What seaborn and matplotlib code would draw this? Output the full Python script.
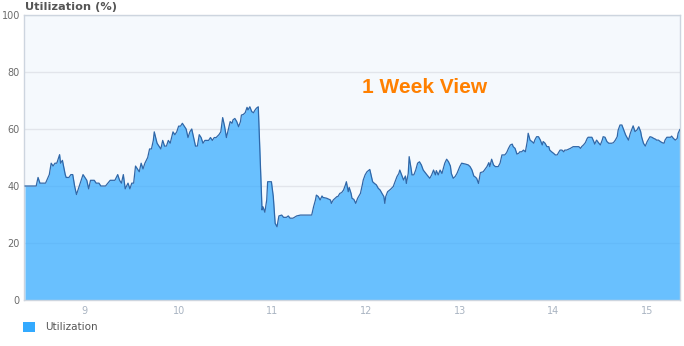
import matplotlib
matplotlib.use("Agg")
import matplotlib.pyplot as plt
from matplotlib.patches import Patch
import seaborn as sns
import pandas as pd

# ---- data (day of month, utilization %) ----
days = [
    8.36, 8.48, 8.50, 8.52, 8.58, 8.62, 8.64, 8.66, 8.68, 8.70, 8.73, 8.74, 8.76, 8.79, 8.80,
    8.83, 8.85, 8.87, 8.89, 8.91, 8.94, 8.95, 8.98, 9.00, 9.02, 9.04, 9.06, 9.10, 9.12, 9.15,
    9.17, 9.22, 9.27, 9.32, 9.35, 9.37, 9.39, 9.41, 9.43, 9.46, 9.48, 9.50, 9.52, 9.54, 9.56,
    9.58, 9.60, 9.62, 9.64, 9.67, 9.69, 9.71, 9.73, 9.74, 9.77, 9.79, 9.81, 9.83, 9.85, 9.87,
    9.89, 9.91, 9.94, 9.96, 9.98, 10.00, 10.02, 10.04, 10.06, 10.08, 10.10, 10.12, 10.14, 10.16,
    10.18, 10.20, 10.22, 10.24, 10.26, 10.28, 10.30, 10.32, 10.34, 10.36, 10.38, 10.40, 10.43,
    10.45, 10.47, 10.49, 10.51,
    10.55, 10.57, 10.58, 10.60, 10.62, 10.64, 10.66, 10.67, 10.69, 10.71, 10.73, 10.74, 10.76,
    10.78, 10.80, 10.81, 10.83, 10.85, 10.89, 10.90, 10.92, 10.94, 10.95, 10.99, 11.01, 11.03,
    11.05, 11.07, 11.10, 11.12, 11.15, 11.17, 11.19, 11.22, 11.26, 11.30, 11.42, 11.44, 11.46,
    11.47, 11.49, 11.51, 11.53, 11.54, 11.58, 11.62, 11.63, 11.65, 11.67, 11.69, 11.70, 11.72,
    11.74, 11.76, 11.78, 11.79, 11.80, 11.81, 11.82, 11.84, 11.85, 11.87, 11.89, 11.91, 11.93,
    11.94, 11.96, 11.97, 11.99, 12.01, 12.04, 12.05, 12.07, 12.09, 12.11, 12.13, 12.15, 12.17,
    12.19, 12.20, 12.21, 12.23, 12.26, 12.29, 12.31, 12.33, 12.35, 12.36, 12.38, 12.40, 12.42,
    12.43, 12.45, 12.46, 12.48, 12.49, 12.51, 12.53, 12.55, 12.57, 12.59, 12.61, 12.65, 12.68,
    12.70, 12.72, 12.74, 12.75, 12.77, 12.79, 12.81, 12.83, 12.84, 12.86, 12.88,
    12.90, 12.91, 12.93, 12.95, 12.97, 13.00, 13.02, 13.06, 13.09, 13.11, 13.13, 13.15, 13.16,
    13.18, 13.20, 13.22, 13.25, 13.29, 13.31, 13.32, 13.34, 13.36, 13.38, 13.41, 13.43, 13.45,
    13.48, 13.50, 13.52, 13.54, 13.56, 13.57, 13.59, 13.61, 13.63, 13.64, 13.66, 13.68, 13.70,
    13.72, 13.73, 13.75, 13.77, 13.79, 13.80, 13.82, 13.84, 13.86, 13.88, 13.89, 13.91, 13.93,
    13.95, 13.96, 13.98, 14.00, 14.02, 14.04, 14.05, 14.07, 14.09, 14.11, 14.12, 14.14, 14.16,
    14.18, 14.21, 14.23, 14.27, 14.29, 14.30, 14.32, 14.34, 14.36, 14.37, 14.41, 14.43, 14.44,
    14.46, 14.48, 14.50, 14.52, 14.53, 14.55, 14.57, 14.59, 14.62, 14.64, 14.66, 14.68, 14.69,
    14.71, 14.73, 14.75, 14.77, 14.78, 14.80, 14.82, 14.84, 14.85, 14.87, 14.89, 14.91, 14.93,
    14.94, 14.96, 14.98, 15.00, 15.02, 15.03, 15.05, 15.07, 15.09, 15.10, 15.12, 15.14, 15.16,
    15.18, 15.19, 15.21, 15.25, 15.26, 15.28, 15.30, 15.32, 15.33, 15.35,
]
utilization = [
    40, 40, 43, 41, 41, 44, 48, 47, 48, 48, 51, 48, 49, 44, 43,
    43, 44, 44, 40, 37, 40, 41, 44, 43, 42, 39, 42, 42, 41, 41,
    40, 40, 42, 42, 44, 42, 41, 44, 39, 41, 39, 41, 41, 47, 46,
    45, 48, 46, 48, 50, 53, 53, 56, 59, 55, 54, 53, 56, 54, 54,
    56, 55, 59, 58, 59, 61, 61, 62, 61, 60, 57, 59, 60, 57,
    54, 54, 58, 57, 55, 56, 56, 56, 57, 56, 57, 57, 58,
    59, 64, 61, 57,
    62.6, 62.0, 63.2, 63.7, 62.6, 60.8, 62.6, 64.9, 65.1, 65.7, 67.6, 66.7, 67.8,
    66.1, 65.7, 66.4, 67.3, 67.8, 31.6, 32.7, 30.8, 35.1, 41.5, 41.5, 36.3, 26.9,
    25.7, 29.5, 29.8, 29.0, 29.0, 29.5, 28.7, 28.7, 29.5, 29.8, 29.8, 32.7, 35.1,
    36.8, 36.3, 35.1, 36.5, 36.0, 35.7, 35.1, 33.9, 35.1, 35.7, 36.3, 36.3, 37.4,
    37.7, 38.6, 40.4, 41.5, 39.8, 38.0, 39.5, 37.4, 35.7, 35.3, 33.9, 35.7, 36.8,
    37.4, 40.4, 42.1, 43.9, 45.0, 45.8, 44.4, 41.5, 40.9, 40.4, 39.2, 38.6, 37.4,
    36.3, 33.9, 36.3, 38.0, 38.8, 39.8, 41.5, 43.3, 44.4, 45.6, 43.9, 42.1, 43.5,
    40.9, 44.4, 50.3, 46.2, 43.9, 43.9, 45.6, 48.0, 48.5, 47.4, 45.6, 43.9, 42.7,
    43.9, 45.6, 43.9, 45.4, 43.9, 45.6, 44.4, 46.8, 48.0, 49.4, 48.5,
    47.0, 44.4, 42.7, 43.3, 44.4, 46.8, 48.0, 47.7, 47.4, 46.8, 45.6, 43.5, 43.3,
    42.7, 40.9, 44.7, 45.0, 46.8, 48.2, 46.8, 49.4, 47.4, 46.8, 46.8, 48.0, 50.9,
    50.9, 51.7, 53.2, 54.4, 54.7, 53.8, 53.2, 51.2, 51.5, 52.0, 52.0, 52.6, 52.0,
    55.6, 58.5, 56.1, 55.6, 55.0, 56.1, 57.3, 57.3, 56.1, 54.4, 55.6, 55.0, 53.8,
    53.8, 52.6, 52.0, 51.5, 50.9, 50.9, 51.5, 52.6, 52.6, 52.0, 52.6, 52.6, 52.9,
    53.2, 53.8, 53.8, 53.8, 53.2, 53.8, 54.4, 55.2, 56.7, 57.1, 57.1, 55.6, 54.7,
    56.1, 55.2, 54.4, 56.1, 57.3, 57.1, 55.6, 55.0, 55.0, 55.2, 56.1, 57.3, 59.6,
    61.4, 61.4, 59.6, 57.9, 57.3, 56.1, 58.5, 60.2, 61.1, 59.1, 59.6, 60.8, 59.1,
    57.3, 55.0, 54.0, 55.6, 56.7, 57.3, 57.1, 56.7, 56.4, 56.1, 56.1, 55.6, 55.2,
    55.0, 56.1, 57.1, 57.1, 57.5, 56.7, 56.1, 56.7, 58.5, 59.9,
]
x_ticks = [9, 10, 11, 12, 13, 14, 15]
x_tick_labels = ["9", "10", "11", "12", "13", "14", "15"]
y_ticks = [0, 20, 40, 60, 80, 100]
series_name = "Utilization"
chart_title = "Utilization (%)"
annotation = "1 Week View"

df = pd.DataFrame({"day": days, "util": utilization})

sns.set_theme(style="white")
plt.rcParams["font.family"] = ["DejaVu Sans"]

fig = plt.figure(figsize=(6.84, 3.46), dpi=100)
ax = fig.add_axes([24 / 684, 1 - 300 / 346, 656 / 684, 285 / 346])
ax.set_facecolor("#f5f9fd")

ax.fill_between(df["day"], 0, df["util"], color="#33aaff", alpha=0.72, linewidth=0, zorder=2)
sns.lineplot(data=df, x="day", y="util", ax=ax, color="#2f67a8", linewidth=0.9, zorder=3)

ax.set_xlim(8.35, 15.35)
ax.set_ylim(0, 100)
ax.set_xticks(x_ticks)
ax.set_xticklabels(x_tick_labels)
ax.set_yticks(y_ticks)
ax.set_xlabel("")
ax.set_ylabel("")
ax.grid(axis="y", color="#e2e5eb", linewidth=1.0, zorder=1)
ax.set_axisbelow(True)
ax.tick_params(axis="x", length=0, pad=4, labelsize=7, labelcolor="#a9b4c2")
ax.tick_params(axis="y", length=0, pad=3, labelsize=7, labelcolor="#6b6b6b")
for s in ax.spines.values():
    s.set_color("#cdd5df")
    s.set_linewidth(1.0)

fig.text(25 / 684, 1 - 7 / 346, chart_title, fontsize=8.2, fontweight="bold",
         color="#555555", ha="left", va="center")
ax.text(0.516, 0.745, annotation, transform=ax.transAxes, fontsize=15,
        fontweight="bold", color="#ff8000", ha="left", va="center",
        family=["Liberation Sans", "DejaVu Sans"])

handle = Patch(facecolor="#33aaff", edgecolor="none", label=series_name)
fig.legend(handles=[handle], loc="center left", bbox_to_anchor=(19 / 684, 1 - 327 / 346),
           frameon=False, fontsize=7.5, labelcolor="#555555", handlelength=1.15,
           handleheight=1.15, handletextpad=1.0, borderaxespad=0)

fig.savefig("out.png", dpi=100)
